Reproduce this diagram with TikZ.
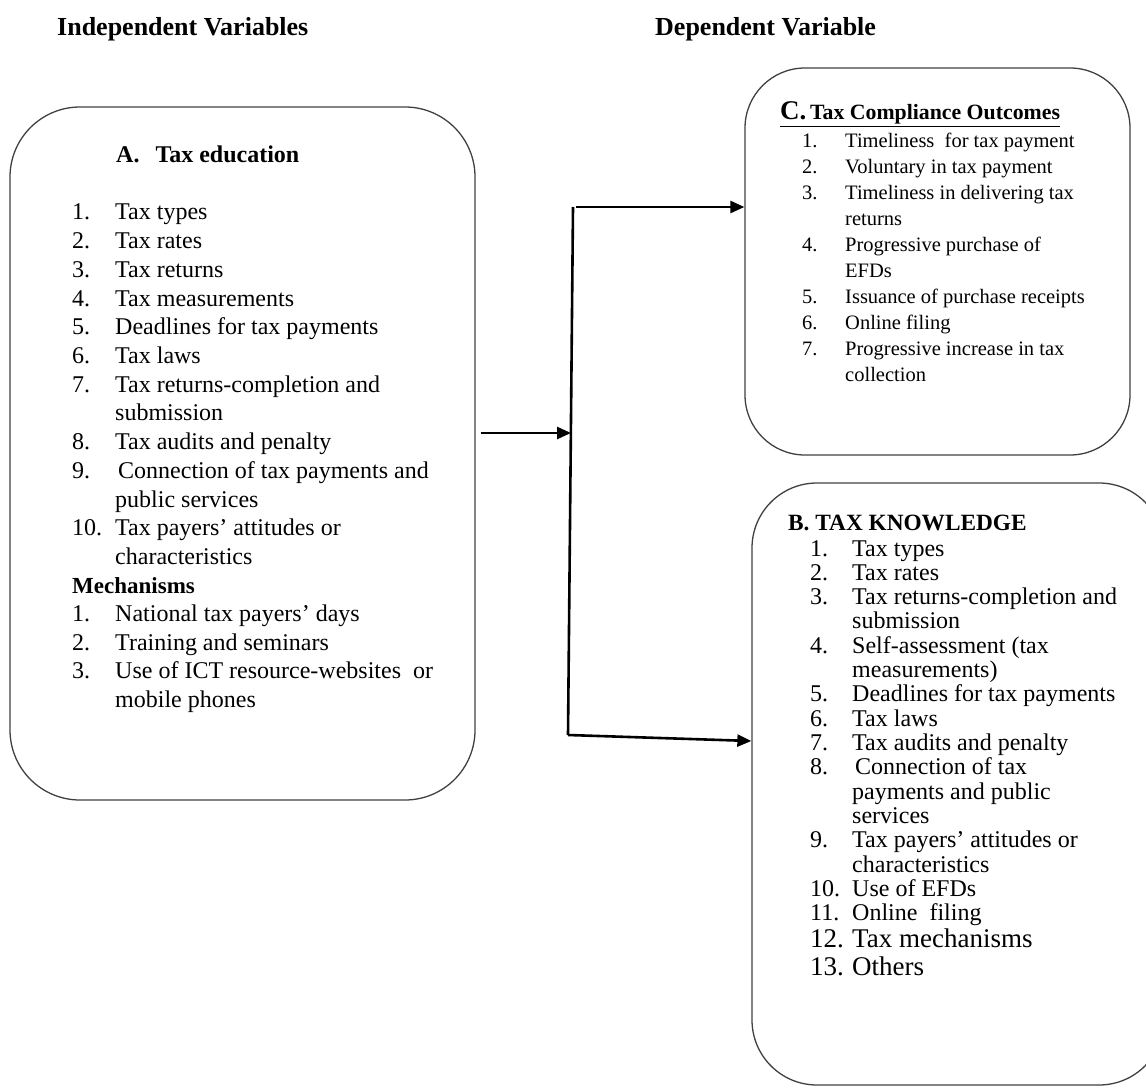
\documentclass[tikz,border=0pt]{standalone}
\usepackage{fontspec}
\setmainfont{Liberation Serif}
\usetikzlibrary{arrows.meta}

\begin{document}
\begin{tikzpicture}[x=1pt, y=-1pt,
    box/.style={draw=black!75, line width=1.3pt, rounded corners=#1},
    box/.default=70pt,
    arr/.style={line width=2.6pt, -{Triangle[length=14pt, width=12pt]}},
    ln/.style={line width=2.6pt},
    head/.style={anchor=base west, inner sep=0pt, font=\bfseries\fontsize{#1}{28}\selectfont},
    head/.default=24,
    txt/.style={anchor=base west, inner sep=0pt, font=\fontsize{#1}{28}\selectfont},
    txt/.default=24
  ]
  \useasboundingbox (0,0) rectangle (1146,1091);
  % column headings
  \node[head=26] (hind) at (57,36) {Independent Variables};
  \node[head=26] (hdep) at (655,36) {Dependent Variable};

  % the three boxes
  \node[box, minimum width=465pt, minimum height=693pt] (boxA) at (242.5,453.5) {};
  \node[box=60pt, minimum width=385pt, minimum height=387pt] (boxC) at (937.5,261.5) {};
  \node[box=65pt, minimum width=412pt, minimum height=602pt] (boxB) at (958,784) {};

  % box A: tax education
  \node[head] (tA) at (116,163) {A.\hspace{16pt}Tax education};
  \foreach \n/\t [count=\i from 0] in {1./Tax types, 2./Tax rates, 3./Tax returns,
      4./Tax measurements, 5./Deadlines for tax payments, 6./Tax laws,
      7./Tax returns-completion and, /submission, 8./Tax audits and penalty,
      9./\hspace{3pt}Connection of tax payments and, /public services,
      10./Tax payers’ attitudes or, /characteristics} {
    \node[txt] (an\i) at (72,220+\i*28.7) {\n};
    \node[txt] (at\i) at (115,220+\i*28.7) {\t};
  }
  \node[head=23] (mech) at (72,593) {Mechanisms};
  \foreach \n/\t [count=\i from 0] in {1./National tax payers’ days,
      2./Training and seminars, 3./Use of ICT resource-websites\ \ or,
      /mobile phones} {
    \node[txt] (mn\i) at (72,621.5+\i*28.7) {\n};
    \node[txt] (mt\i) at (115,621.5+\i*28.7) {\t};
  }

  % box C: tax compliance outcomes
  \node[head=21.8] (tC) at (780,120) {\underline{{\fontsize{27}{28}\selectfont C.}\,Tax Compliance Outcomes}};
  \foreach \n/\t [count=\i from 0] in {1./Timeliness\ \ for tax payment,
      2./Voluntary in tax payment, 3./Timeliness\ in delivering\ tax, /returns,
      4./Progressive purchase of, /EFDs, 5./Issuance of purchase receipts,
      6./Online filing, 7./Progressive increase in tax, /collection} {
    \node[txt=20.5] (cn\i) at (802,148+\i*25.9) {\n};
    \node[txt=20.5] (ct\i) at (845,148+\i*25.9) {\t};
  }

  % box B: tax knowledge
  \node[head=23.3] (tB) at (788,530) {B. TAX KNOWLEDGE};
  \foreach \n/\t [count=\i from 0] in {1./Tax types, 2./Tax rates,
      3./Tax returns-completion and, /submission, 4./Self-assessment (tax,
      /measurements), 5./Deadlines for tax payments, 6./Tax laws,
      7./Tax audits and penalty, 8./\hspace{3pt}Connection of tax,
      /payments and public, /services, 9./Tax payers’ attitudes or,
      /characteristics, 10./Use of EFDs, 11./Online\ \ filing} {
    \node[txt] (bn\i) at (810,556+\i*24.33) {\n};
    \node[txt] (bt\i) at (852,556+\i*24.33) {\t};
  }
  \node[txt=27] (bn16) at (810,947) {12.};
  \node[txt=27] (bt16) at (852,947) {Tax mechanisms};
  \node[txt=27] (bn17) at (810,975) {13.};
  \node[txt=27] (bt17) at (852,975) {Others};

  % connectors
  \coordinate (jtop) at (573,207);
  \coordinate (jmid) at (571,433);
  \coordinate (jbot) at (568,735);
  \draw[ln] (jtop) -- (jbot);
  \draw[arr] ([xshift=5pt]boxA.east |- jmid) -- (jmid);
  \draw[arr] ([xshift=3pt]jtop) -- (boxC.west |- jtop);
  \draw[arr] (jbot) -- (boxB.west |- 0,741);
\end{tikzpicture}
\end{document}
